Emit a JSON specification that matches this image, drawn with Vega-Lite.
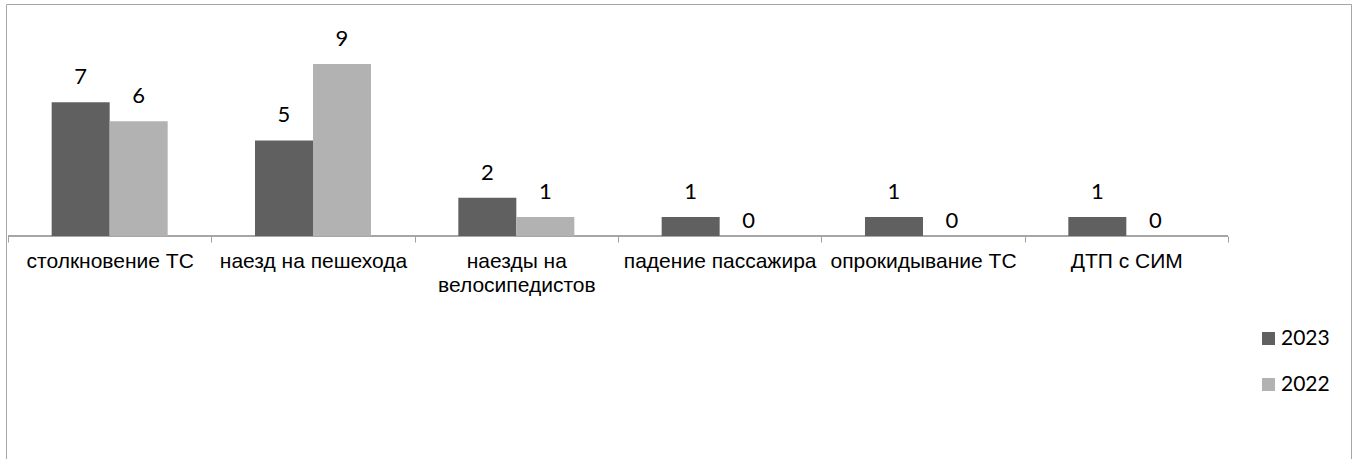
{
  "$schema": "https://vega.github.io/schema/vega-lite/v6.json",
  "width": 1345,
  "height": 455,
  "autosize": {"type": "none"},
  "padding": {"left": 6, "top": 4, "right": 4, "bottom": 0},
  "background": "white",
  "config": {"view": {"stroke": "#a6a6a6", "strokeWidth": 1}},
  "data": {
    "values": [
      {"category": "столкновение ТС", "year": "2023", "value": 7},
      {"category": "столкновение ТС", "year": "2022", "value": 6},
      {"category": "наезд на пешехода", "year": "2023", "value": 5},
      {"category": "наезд на пешехода", "year": "2022", "value": 9},
      {"category": "наезды на|велосипедистов", "year": "2023", "value": 2},
      {"category": "наезды на|велосипедистов", "year": "2022", "value": 1},
      {"category": "падение пассажира", "year": "2023", "value": 1},
      {"category": "падение пассажира", "year": "2022", "value": 0},
      {"category": "опрокидывание ТС", "year": "2023", "value": 1},
      {"category": "опрокидывание ТС", "year": "2022", "value": 0},
      {"category": "ДТП с СИМ", "year": "2023", "value": 1},
      {"category": "ДТП с СИМ", "year": "2022", "value": 0}
    ]
  },
  "encoding": {
    "x": {
      "field": "category",
      "type": "nominal",
      "sort": null,
      "scale": {"paddingInner": 0, "paddingOuter": 0.3074, "align": 0.016},
      "axis": {
        "title": null,
        "orient": "bottom",
        "offset": -223,
        "domain": false,
        "ticks": true,
        "tickBand": "extent",
        "tickSize": 6,
        "tickColor": "#a0a0a0",
        "tickWidth": 1,
        "labelAngle": 0,
        "labelFont": "Liberation Sans",
        "labelFontSize": 21,
        "labelColor": "#000000",
        "labelPadding": 8,
        "labelLimit": 0,
        "labelOverlap": false,
        "labelBound": false,
        "labelFlush": false,
        "labelLineHeight": 24,
        "labelExpr": "split(datum.label, '|')"
      }
    },
    "y": {
      "field": "value",
      "type": "quantitative",
      "scale": {"domain": [-11.67, 12.14], "nice": false, "zero": false},
      "axis": null
    }
  },
  "layer": [
    {
      "mark": {"type": "rect", "fill": null, "stroke": "#a0a0a0", "strokeWidth": 1},
      "encoding": {
        "y": {"datum": 0, "type": "quantitative"},
        "y2": {"datum": 0}
      }
    },
    {
      "mark": {"type": "bar"},
      "encoding": {
        "xOffset": {
          "field": "year",
          "type": "nominal",
          "sort": ["2023", "2022"],
          "scale": {"paddingInner": 0, "paddingOuter": 0.7528}
        },
        "y2": {"datum": 0},
        "color": {
          "field": "year",
          "type": "nominal",
          "sort": ["2023", "2022"],
          "scale": {"domain": ["2023", "2022"], "range": ["#606060", "#b2b2b2"]},
          "legend": {
            "title": null,
            "orient": "none",
            "legendX": 1252,
            "legendY": 324,
            "padding": 0,
            "symbolType": "square",
            "symbolSize": 169,
            "symbolStrokeWidth": 0,
            "symbolOpacity": 1,
            "labelFont": "Lato",
            "labelFontSize": 21,
            "labelColor": "#000000",
            "labelOffset": 2,
            "rowPadding": 24
          }
        }
      }
    },
    {
      "transform": [{"filter": "datum.value > 0"}],
      "mark": {"type": "text", "font": "Lato", "fontSize": 22, "color": "#000000", "baseline": "alphabetic", "dy": -18},
      "encoding": {
        "xOffset": {"field": "year", "type": "nominal", "sort": ["2023", "2022"]},
        "text": {"field": "value", "type": "quantitative"}
      }
    },
    {
      "transform": [{"filter": "datum.value == 0"}],
      "mark": {"type": "text", "font": "Lato", "fontSize": 22, "color": "#000000", "baseline": "alphabetic", "dy": -8},
      "encoding": {
        "xOffset": {"field": "year", "type": "nominal", "sort": ["2023", "2022"]},
        "text": {"field": "value", "type": "quantitative"}
      }
    }
  ]
}
